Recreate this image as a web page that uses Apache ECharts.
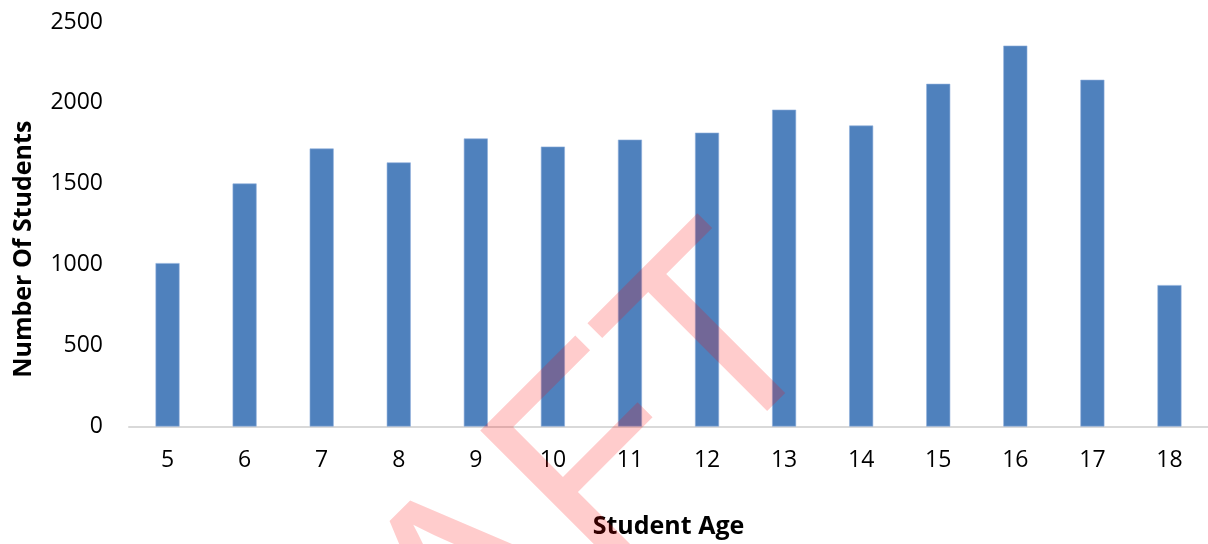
<!DOCTYPE html>
<html>
<head>
<meta charset="utf-8">
<script src="https://cdn.jsdelivr.net/npm/echarts@6/dist/echarts.min.js"></script>
<style>
  html, body { margin: 0; padding: 0; background: #fff; }
  #chart { width: 1208px; height: 544px; }
</style>
</head>
<body>
<div id="chart"></div>
<script>
var ages = ["5", "6", "7", "8", "9", "10", "11", "12", "13", "14", "15", "16", "17", "18"];
var students = [1010, 1502, 1718, 1632, 1780, 1730, 1773, 1816, 1958, 1860, 2118, 2354, 2143, 874];
var yTicks = [0, 500, 1000, 1500, 2000, 2500];

var font = "'Open Sans', 'Noto Sans', sans-serif";
var chart = echarts.init(document.getElementById("chart"));
var option = {
  animation: false,
  grid: { left: 129, right: 0, top: 22, bottom: 116 },
  xAxis: {
    type: "category",
    data: ages,
    name: "Student Age",
    nameLocation: "middle",
    nameGap: 100,
    nameTextStyle: { fontFamily: font, fontSize: 25, fontWeight: "bold", color: "#000", verticalAlign: "middle" },
    axisLine: { lineStyle: { color: "#d9d9d9", width: 2 } },
    axisTick: { show: false },
    axisLabel: { fontFamily: font, fontSize: 23, color: "#000", margin: 22 }
  },
  yAxis: {
    type: "value",
    min: yTicks[0],
    max: yTicks[yTicks.length - 1],
    interval: 500,
    name: "Number Of Students",
    nameLocation: "middle",
    nameRotate: 90,
    nameGap: 105,
    nameTextStyle: { fontFamily: font, fontSize: 25, fontWeight: "bold", color: "#000", verticalAlign: "middle", padding: [0, 50, 0, 0] },
    axisLine: { show: false },
    axisTick: { show: false },
    splitLine: { show: false },
    axisLabel: {
      fontFamily: font, fontSize: 23, color: "#000", margin: 26,
      formatter: function (v) { return String(v); }
    }
  },
  graphic: [
    {
      // watermark
      type: "text",
      z: 100,
      x: 782,
      y: 289,
      rotation: Math.PI / 4,
      style: {
        text: "DRAFT",
        font: "normal 275px 'Liberation Sans', sans-serif",
        fill: "rgba(255,0,0,0.2)",
        align: "right",
        verticalAlign: "middle"
      }
    }
  ],
  series: [
    {
      type: "bar",
      data: students,
      barWidth: 24,
      itemStyle: { color: "#4f81bd", borderColor: "#8eaedb", borderWidth: 0.6 }
    }
  ]
};
chart.setOption(option);
</script>
</body>
</html>
